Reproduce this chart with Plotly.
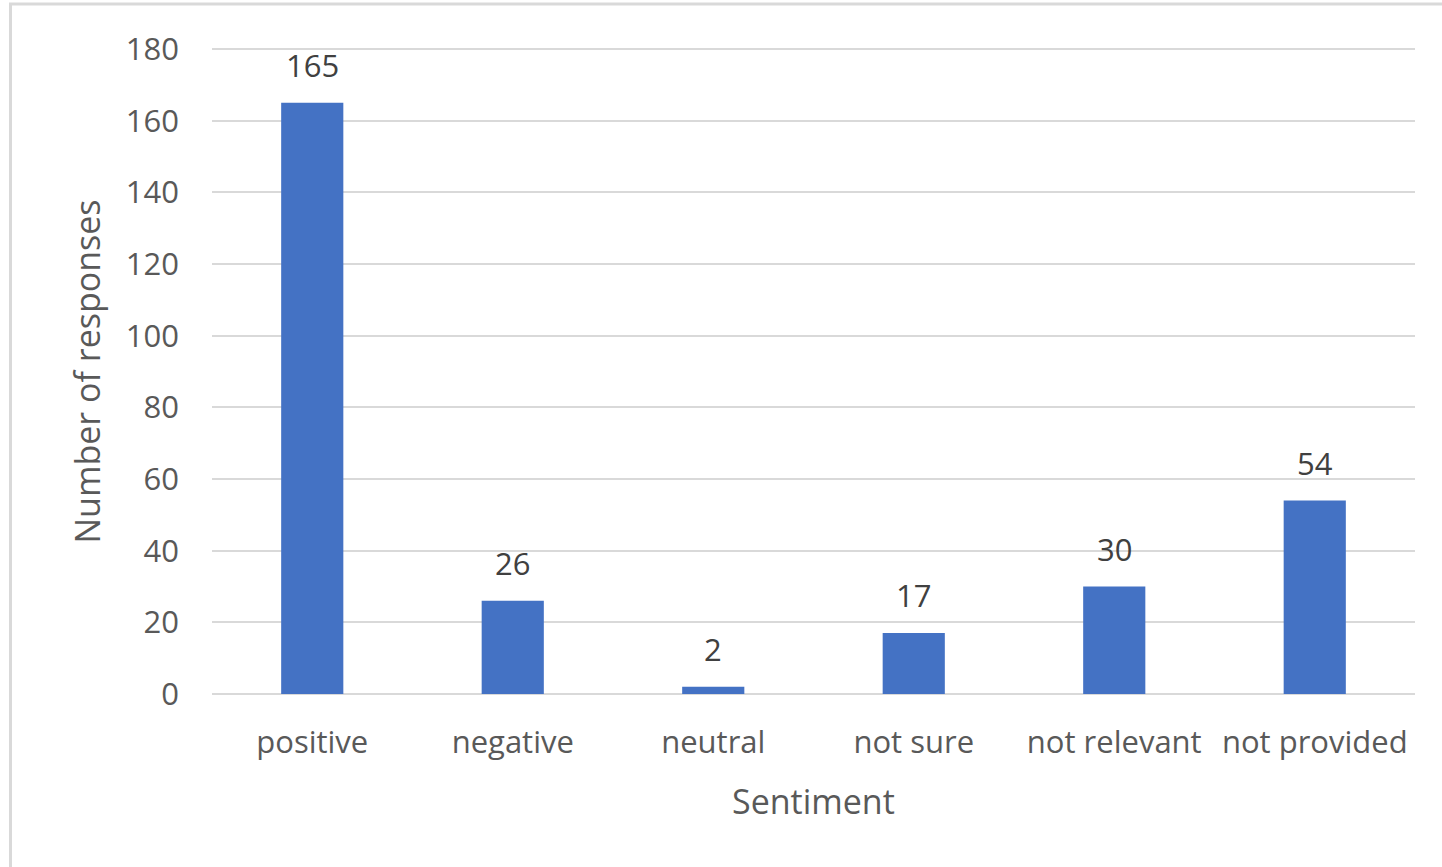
import plotly.graph_objects as go

# Survey sentiment counts
categories = ["positive", "negative", "neutral", "not sure", "not relevant", "not provided"]
responses = [165, 26, 2, 17, 30, 54]
y_ticks = [0, 20, 40, 60, 80, 100, 120, 140, 160, 180]

FONT = "Open Sans"
TEXT_GREY = "#595959"
GRID_GREY = "#D9D9D9"
BAR_BLUE = "#4472C4"

fig = go.Figure()
fig.add_trace(go.Bar(
    x=categories,
    y=responses,
    marker=dict(color=BAR_BLUE, line=dict(width=0)),
    hoverinfo="x+y",
))

# value labels above each bar
for cat, val in zip(categories, responses):
    fig.add_annotation(
        x=cat, y=val, text=str(val), showarrow=False,
        yanchor="middle", yshift=38,
        font=dict(family=FONT, size=31, color="#404040"),
    )

# axis titles
fig.add_annotation(
    x=0.5, y=-0.165, xref="paper", yref="paper", text="Sentiment",
    showarrow=False, xanchor="center", yanchor="middle",
    font=dict(family=FONT, size=34, color=TEXT_GREY),
)
fig.add_annotation(
    x=-0.1035, y=0.5, xref="paper", yref="paper", text="Number of responses",
    showarrow=False, textangle=-90, xanchor="center", yanchor="middle",
    font=dict(family=FONT, size=34, color=TEXT_GREY),
)

# chart-area border
fig.add_shape(
    type="rect", xref="paper", yref="paper",
    x0=-0.1675, x1=1.2, y0=-0.4, y1=1.068,
    line=dict(color=GRID_GREY, width=3), fillcolor="rgba(0,0,0,0)", layer="below",
)

fig.update_layout(
    width=1442, height=867,
    margin=dict(l=212, r=27, t=48, b=173),
    paper_bgcolor="white", plot_bgcolor="white",
    bargap=0.69,
    showlegend=False,
    font=dict(family=FONT, color=TEXT_GREY),
    xaxis=dict(
        showgrid=False, showline=False, zeroline=False,
        tickfont=dict(family=FONT, size=31, color=TEXT_GREY),
        ticklabelstandoff=27,
    ),
    yaxis=dict(
        range=[0, 180.3], tickvals=y_ticks,
        showgrid=True, gridcolor=GRID_GREY, gridwidth=2,
        zeroline=True, zerolinecolor=GRID_GREY, zerolinewidth=2,
        showline=False,
        tickfont=dict(family=FONT, size=31, color=TEXT_GREY),
        ticklabelstandoff=32,
    ),
)

fig.write_html("out.html")
